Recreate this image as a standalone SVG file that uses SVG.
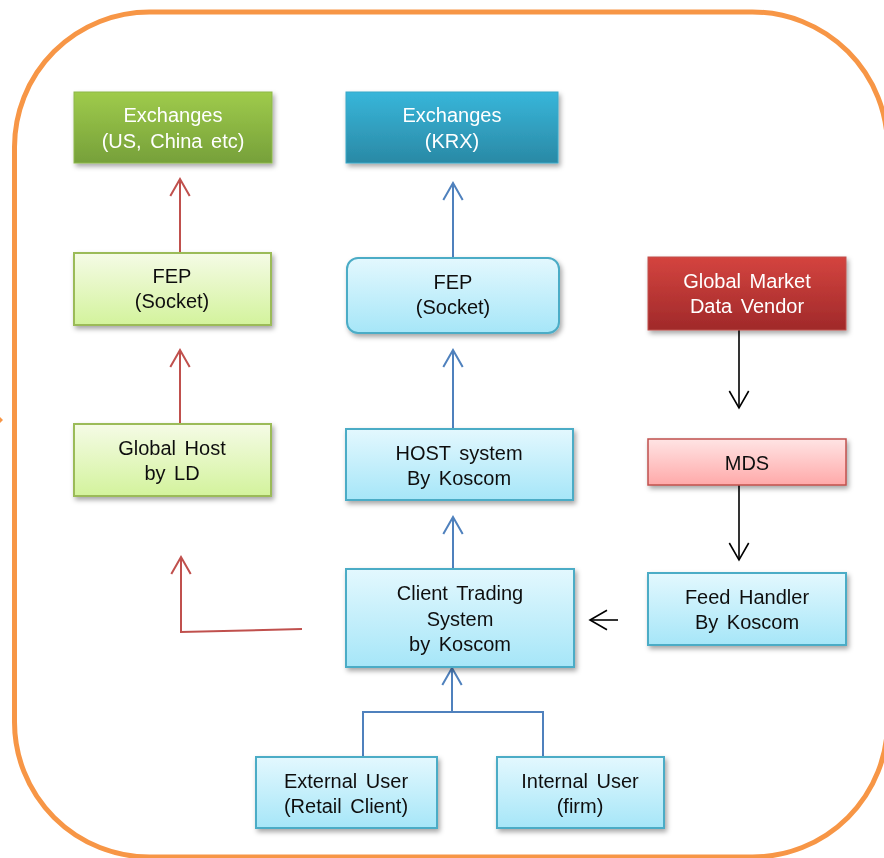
<svg xmlns="http://www.w3.org/2000/svg" width="884" height="858" viewBox="0 0 884 858">
<style>
  .t { font-family: "Liberation Sans", Arial, sans-serif; font-size: 20px; text-anchor: middle; word-spacing: 3px; fill: #111; }
  .w { fill: #ffffff; }
  .box { filter: url(#sh); }
  .lg { fill: url(#gLightGreen); stroke: #9BBB59; stroke-width: 2; }
  .lb { fill: url(#gLightBlue); stroke: #4BACC6; stroke-width: 2; }
  .red { stroke: #C0504D; stroke-width: 2; fill: none; }
  .blue { stroke: #4F81BD; stroke-width: 2; fill: none; }
  .blk { stroke: #000; stroke-width: 1.6; fill: none; }
</style>
<defs>
  <filter id="sh" x="-10%" y="-10%" width="125%" height="140%">
    <feDropShadow dx="2" dy="3" stdDeviation="2.5" flood-color="#000" flood-opacity="0.35"/>
  </filter>
  <linearGradient id="gGreen" x1="0" y1="0" x2="0" y2="1">
    <stop offset="0" stop-color="#9FCB4B"/><stop offset="1" stop-color="#76A03A"/>
  </linearGradient>
  <linearGradient id="gTeal" x1="0" y1="0" x2="0" y2="1">
    <stop offset="0" stop-color="#38B6DA"/><stop offset="1" stop-color="#2A89A5"/>
  </linearGradient>
  <linearGradient id="gRed" x1="0" y1="0" x2="0" y2="1">
    <stop offset="0" stop-color="#D4443F"/><stop offset="1" stop-color="#A0292A"/>
  </linearGradient>
  <linearGradient id="gLightGreen" x1="0" y1="0" x2="0" y2="1">
    <stop offset="0" stop-color="#F5FBE6"/><stop offset="1" stop-color="#D3F39C"/>
  </linearGradient>
  <linearGradient id="gLightBlue" x1="0" y1="0" x2="0" y2="1">
    <stop offset="0" stop-color="#E3F8FE"/><stop offset="1" stop-color="#A6E6F8"/>
  </linearGradient>
  <linearGradient id="gPink" x1="0" y1="0" x2="0" y2="1">
    <stop offset="0" stop-color="#FFE4E4"/><stop offset="1" stop-color="#FFA9A9"/>
  </linearGradient>
  <marker id="aRed" markerUnits="userSpaceOnUse" viewBox="-20 -12 22 24" refX="0" refY="0" markerWidth="22" markerHeight="24" orient="auto" overflow="visible">
    <path d="M-17,-9.7 L0,0 L-17,9.7" fill="none" stroke="#C0504D" stroke-width="2"/>
  </marker>
  <marker id="aBlue" markerUnits="userSpaceOnUse" viewBox="-20 -12 22 24" refX="0" refY="0" markerWidth="22" markerHeight="24" orient="auto" overflow="visible">
    <path d="M-17,-9.7 L0,0 L-17,9.7" fill="none" stroke="#4F81BD" stroke-width="2"/>
  </marker>
  <marker id="aBlk" markerUnits="userSpaceOnUse" viewBox="-20 -12 22 24" refX="0" refY="0" markerWidth="22" markerHeight="24" orient="auto" overflow="visible">
    <path d="M-17,-9.7 L0,0 L-17,9.7" fill="none" stroke="#000" stroke-width="1.6"/>
  </marker>
</defs>

<rect x="14.5" y="12" width="873" height="845" rx="135" ry="135" fill="none" stroke="#F79646" stroke-width="5"/>
<path d="M0,417 L3,420 L0,423 Z" fill="#F79646"/>

<g id="connectors">
  <line class="red" x1="180" y1="253" x2="180" y2="179" marker-end="url(#aRed)"/>
  <line class="red" x1="180" y1="424" x2="180" y2="350" marker-end="url(#aRed)"/>
  <polyline class="red" points="302,629 181,632 181,557" marker-end="url(#aRed)"/>
  <line class="blue" x1="453" y1="258" x2="453" y2="183" marker-end="url(#aBlue)"/>
  <line class="blue" x1="453" y1="429" x2="453" y2="350" marker-end="url(#aBlue)"/>
  <line class="blue" x1="453" y1="569" x2="453" y2="517" marker-end="url(#aBlue)"/>
  <polyline class="blue" points="363,757 363,712 543,712 543,757"/>
  <line class="blue" x1="452" y1="712" x2="452" y2="668" marker-end="url(#aBlue)"/>
  <line class="blk" x1="739" y1="330" x2="739" y2="408" marker-end="url(#aBlk)"/>
  <line class="blk" x1="739" y1="485" x2="739" y2="560" marker-end="url(#aBlk)"/>
  <line class="blk" x1="618" y1="620" x2="590" y2="620" marker-end="url(#aBlk)"/>
</g>

<g id="exchanges-global" class="box">
  <rect x="74" y="92" width="198" height="71" fill="url(#gGreen)" stroke="#8DB84A" stroke-width="1"/>
  <text class="t w" x="173" y="122">Exchanges</text>
  <text class="t w" x="173" y="148">(US, China etc)</text>
</g>
<g id="exchanges-krx" class="box">
  <rect x="346" y="92" width="212" height="71" fill="url(#gTeal)" stroke="#3AA8C8" stroke-width="1"/>
  <text class="t w" x="452" y="122">Exchanges</text>
  <text class="t w" x="452" y="148">(KRX)</text>
</g>
<g id="fep-global" class="box">
  <rect class="lg" x="74" y="253" width="197" height="72"/>
  <text class="t" x="172" y="283">FEP</text>
  <text class="t" x="172" y="308">(Socket)</text>
</g>
<g id="global-host" class="box">
  <rect class="lg" x="74" y="424" width="197" height="72"/>
  <text class="t" x="172" y="455">Global Host</text>
  <text class="t" x="172" y="480">by LD</text>
</g>
<g id="fep-krx" class="box">
  <rect class="lb" x="347" y="258" width="212" height="75" rx="11" ry="11"/>
  <text class="t" x="453" y="289">FEP</text>
  <text class="t" x="453" y="314">(Socket)</text>
</g>
<g id="host-system" class="box">
  <rect class="lb" x="346" y="429" width="227" height="71"/>
  <text class="t" x="459" y="460">HOST system</text>
  <text class="t" x="459" y="485">By Koscom</text>
</g>
<g id="client-trading" class="box">
  <rect class="lb" x="346" y="569" width="228" height="98"/>
  <text class="t" x="460" y="600">Client Trading</text>
  <text class="t" x="460" y="626">System</text>
  <text class="t" x="460" y="651">by Koscom</text>
</g>
<g id="market-data-vendor" class="box">
  <rect x="648" y="257" width="198" height="73" fill="url(#gRed)" stroke="#C0504D" stroke-width="1"/>
  <text class="t w" x="747" y="288">Global Market</text>
  <text class="t w" x="747" y="313">Data Vendor</text>
</g>
<g id="mds" class="box">
  <rect x="648" y="439" width="198" height="46" fill="url(#gPink)" stroke="#C0504D" stroke-width="1.5"/>
  <text class="t" x="747" y="470">MDS</text>
</g>
<g id="feed-handler" class="box">
  <rect class="lb" x="648" y="573" width="198" height="72"/>
  <text class="t" x="747" y="604">Feed Handler</text>
  <text class="t" x="747" y="629">By Koscom</text>
</g>
<g id="external-user" class="box">
  <rect class="lb" x="256" y="757" width="181" height="71"/>
  <text class="t" x="346" y="788">External User</text>
  <text class="t" x="346" y="813">(Retail Client)</text>
</g>
<g id="internal-user" class="box">
  <rect class="lb" x="497" y="757" width="167" height="71"/>
  <text class="t" x="580" y="788">Internal User</text>
  <text class="t" x="580" y="813">(firm)</text>
</g>
</svg>
